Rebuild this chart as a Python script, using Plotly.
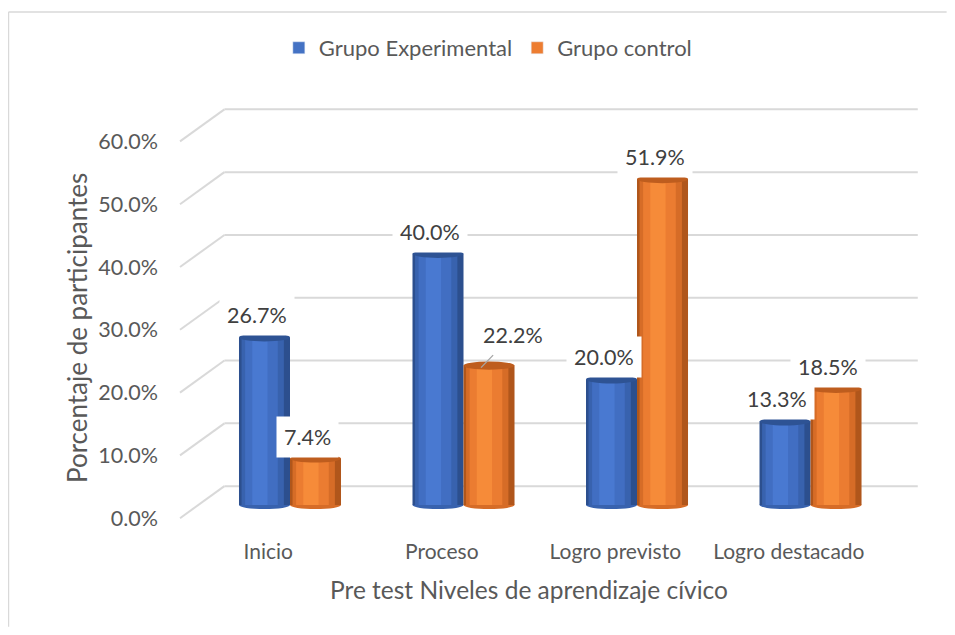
"""
Pre test: niveles de aprendizaje cívico, grupo experimental vs. control
(imitación de columnas cilíndricas 3D de Excel con Plotly 2D).
"""

import plotly.graph_objects as go

# --- datos -----------------------------------------------------------------
categorias = ["Inicio", "Proceso", "Logro previsto", "Logro destacado"]
grupo_experimental = [26.7, 40.0, 20.0, 13.3]
grupo_control = [7.4, 22.2, 51.9, 18.5]
ticks_y = [0, 10, 20, 30, 40, 50, 60]
series_nombres = ["Grupo Experimental", "Grupo control"]

# --- estilo ----------------------------------------------------------------
FONT = "Lato"
GRIS_TXT = "#595959"
GRIS_LBL = "#404040"
GRID = "#D9D9D9"
W = 0.294            # ancho de cada cilindro (unidades de categoría)
BACK = 3.0           # desplazamiento de la pared del fondo (en %)
FRONT = -2.1         # desplazamiento del borde delantero (en %)
CAP = 0.65           # semialto de la elipse superior (en %)
X_LBL = -0.125       # etiquetas de categoría algo a la izquierda (perspectiva)

# capas de sombreado del cilindro: (desde, hasta, color) en fracción del ancho
capas = {
    "Grupo Experimental": [(0.0, 1.0, "#2C4F8E"), (0.05, 0.88, "#3862AE"),
                           (0.12, 0.76, "#416EC2"), (0.26, 0.56, "#4979D1")],
    "Grupo control": [(0.0, 1.0, "#B0561B"), (0.05, 0.88, "#D66C27"),
                      (0.12, 0.76, "#EB7C31"), (0.26, 0.56, "#F68B39")],
}
tapa = {"Grupo Experimental": "#2E5394", "Grupo control": "#BE5D1E"}
leyenda = {"Grupo Experimental": "#4472C4", "Grupo control": "#ED7D31"}

idx = list(range(len(categorias)))
fig = go.Figure()
shapes = []

# rejilla en perspectiva: línea del fondo + diagonal hacia el frente
for v in ticks_y:
    shapes.append(dict(type="line", xref="paper", yref="y", x0=0.06, x1=0.997,
                       y0=v + BACK, y1=v + BACK, layer="below",
                       line=dict(color=GRID, width=2)))
    shapes.append(dict(type="line", xref="paper", yref="y", x0=0.0, x1=0.06,
                       y0=v + FRONT, y1=v + BACK, layer="below",
                       line=dict(color=GRID, width=2)))

for s, (nombre, valores) in enumerate(zip(series_nombres,
                                          [grupo_experimental, grupo_control])):
    inicio = -W if s == 0 else 0.0
    for k, (a, b, color) in enumerate(capas[nombre]):
        fig.add_trace(go.Bar(
            x=idx, y=valores, base=0,
            width=W * (b - a), offset=inicio + W * a,
            marker=dict(color=color, line=dict(width=0)),
            name=nombre, showlegend=False, hoverinfo="skip",
        ))
    # elipses inferior y superior
    for i, v in zip(idx, valores):
        shapes.append(dict(type="circle", xref="x", yref="y",
                           x0=i + inicio, x1=i + inicio + W,
                           y0=-CAP, y1=CAP, layer="below",
                           fillcolor=capas[nombre][1][2], line=dict(width=0)))
        shapes.append(dict(type="circle", xref="x", yref="y",
                           x0=i + inicio, x1=i + inicio + W,
                           y0=v - CAP, y1=v + CAP, layer="above",
                           fillcolor=tapa[nombre], line=dict(width=0)))
    # entrada de leyenda
    fig.add_trace(go.Bar(x=[None], y=[None], name=nombre,
                         marker=dict(color=leyenda[nombre])))

# marco del gráfico (sólo bordes izquierdo y superior visibles)
shapes.append(dict(type="line", xref="paper", yref="paper", x0=-0.2318,
                   x1=-0.2318, y0=1.2047, y1=-0.225,
                   line=dict(color=GRID, width=1.5)))
shapes.append(dict(type="line", xref="paper", yref="paper", x0=-0.2318,
                   x1=1.036, y0=1.2047, y1=1.2047,
                   line=dict(color=GRID, width=1.5)))

# etiquetas de datos
annotations = []
for s, valores in enumerate([grupo_experimental, grupo_control]):
    centro = -W / 2 if s == 0 else W / 2
    for i, v in zip(idx, valores):
        ann = dict(x=i + centro, y=v, xref="x", yref="y", text=f"{v:.1f}%",
                   showarrow=False, xshift=-8, yshift=22,
                   bgcolor="white", borderpad=7,
                   font=dict(family=FONT, size=21.5, color=GRIS_LBL))
        if s == 1 and categorias[i] == "Proceso":
            ann.update(showarrow=True, arrowhead=0, arrowwidth=1.3,
                       arrowcolor="#A6A6A6", ax=32, ay=-33, yshift=-2,
                       standoff=0)
        annotations.append(ann)

annotations.append(dict(text="Porcentaje de participantes", textangle=-90,
                        x=-0.139, y=0.47, xref="paper", yref="paper",
                        xanchor="center", yanchor="middle", showarrow=False,
                        font=dict(family=FONT, size=26, color=GRIS_TXT)))
annotations.append(dict(text="Pre test Niveles de aprendizaje cívico",
                        x=0.4716, y=-0.1395, xref="paper", yref="paper",
                        xanchor="center", yanchor="middle", showarrow=False,
                        font=dict(family=FONT, size=24.5, color=GRIS_TXT)))

fig.update_layout(
    width=939, height=619,
    margin=dict(l=172, r=27, t=92, b=97),
    paper_bgcolor="white", plot_bgcolor="white",
    barmode="overlay",
    shapes=shapes, annotations=annotations,
    legend=dict(orientation="h", x=0.416, xanchor="center", y=1.121,
                yanchor="middle", itemwidth=30,
                font=dict(family=FONT, size=22, color=GRIS_TXT)),
    xaxis=dict(range=[-0.634, 3.631], showgrid=False, zeroline=False,
               showline=False,
               tickvals=[i + X_LBL for i in idx], ticktext=categorias,
               ticks="", ticklabelstandoff=7,
               tickfont=dict(family=FONT, size=21, color=GRIS_TXT)),
    yaxis=dict(range=[-3.98, 64.49], showgrid=False, zeroline=False,
               showline=False,
               tickvals=[v + FRONT for v in ticks_y],
               ticktext=[f"{v:.1f}%" for v in ticks_y],
               ticks="", ticklabelstandoff=21,
               tickfont=dict(family=FONT, size=21.5, color=GRIS_TXT)),
)

fig.write_html("out.html")
